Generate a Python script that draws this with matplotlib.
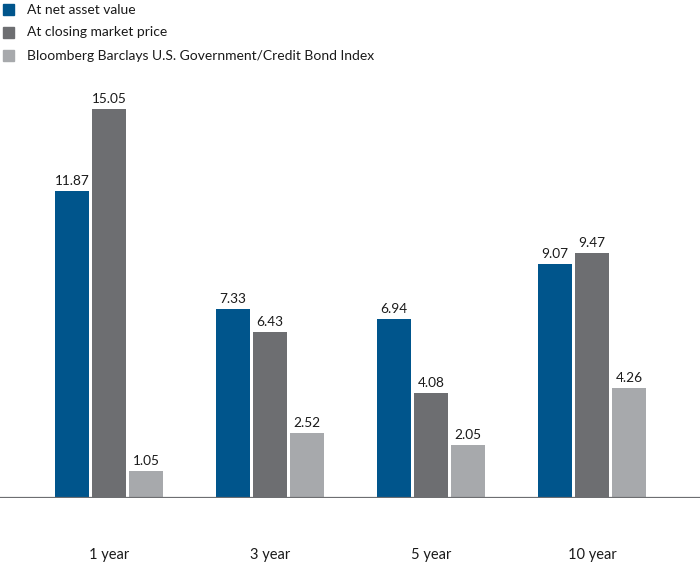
import matplotlib.pyplot as plt
from matplotlib.patches import Rectangle
import numpy as np

plt.rcParams['font.family'] = ['Lato', 'DejaVu Sans']

periods = ['1 year', '3 year', '5 year', '10 year']
nav = [11.87, 7.33, 6.94, 9.07]
market = [15.05, 6.43, 4.08, 9.47]
index = [1.05, 2.52, 2.05, 4.26]
series_names = ['At net asset value', 'At closing market price',
                'Bloomberg Barclays U.S. Government/Credit Bond Index']
colors = ['#00558c', '#6d6e71', '#a7a9ac']

W, H = 700, 565
fig = plt.figure(figsize=(W / 100, H / 100), dpi=100)
# axes: baseline at y=498 px, top at y=80 px
ax = fig.add_axes([0, (H - 498) / H, 1, (498 - 80) / H])

x = np.arange(len(periods))
bw = 34 / 161
step = 37 / 161
for i, (vals, c) in enumerate(zip([nav, market, index], colors)):
    pos = x + (i - 1) * step
    ax.bar(pos, vals, width=bw, color=c, edgecolor='none')
    for p, v in zip(pos, vals):
        ax.text(p, v + 0.15, f'{v:.2f}', ha='center', va='bottom', fontsize=9.8, color='#1a1a1a')

ax.set_xlim(-109 / 161, (W - 109) / 161)
ax.set_ylim(0, (498 - 80) / 25.85)
ax.axhline(0, color='#6d6e71', lw=1.6)
for s in ax.spines.values():
    s.set_visible(False)
ax.set_xticks([])
ax.set_yticks([])

for i, p in enumerate(periods):
    fig.text((109 + 161 * i) / W, 1 - 555 / H, p, ha='center', va='center', fontsize=10.5, color='#1a1a1a')

# legend
for i, (name, c) in enumerate(zip(series_names, colors)):
    ytop = 4 + 23 * i
    fig.add_artist(Rectangle((3 / W, 1 - (ytop + 11) / H), 11 / W, 11 / H,
                             transform=fig.transFigure, color=c))
    fig.text(27 / W, 1 - (ytop + 5.5) / H, name, ha='left', va='center', fontsize=10, color='#1a1a1a')

fig.savefig('out.png', dpi=100)
